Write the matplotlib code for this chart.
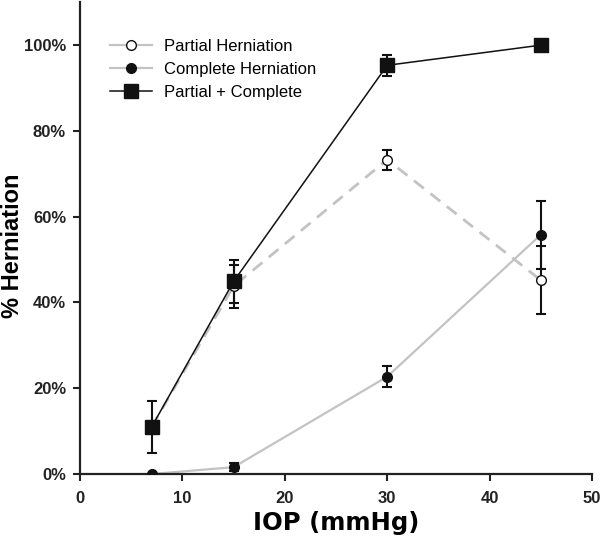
import numpy as np
import matplotlib
matplotlib.use("Agg")
import matplotlib.pyplot as plt
from matplotlib.ticker import FuncFormatter

# IOP levels (mmHg)
iop = [7, 15, 30, 45]

# fraction herniated, with error (SEM)
partial = [0.11, 0.438, 0.733, 0.452]
partial_err = [0.0, 0.05, 0.023, 0.08]

complete = [0.0, 0.016, 0.227, 0.558]
complete_err = [0.0, 0.01, 0.024, 0.079]

total = [0.11, 0.449, 0.953, 1.0]
total_err = [0.06, 0.05, 0.024, 0.0]

fig = plt.figure(figsize=(6, 5.41), dpi=100)
ax = fig.add_axes([0.1333, 0.1238, 0.8534, 0.872])

grey = "#c3c3c3"

# Partial herniation (dashed grey, open circles)
ax.plot(iop, partial, color=grey, lw=2, dashes=(4.5, 3), zorder=1)
ax.errorbar(iop, partial, yerr=partial_err, fmt="none", ecolor="#111111",
            elinewidth=1.5, capsize=3.5, capthick=1.5, zorder=3)
ax.plot(iop, partial, ls="none", marker="o", ms=7, mfc="white",
        mec="#111111", mew=1, zorder=4)

# Complete herniation (solid grey, filled circles)
ax.plot(iop, complete, color=grey, lw=1.6, zorder=1)
ax.errorbar(iop, complete, yerr=complete_err, fmt="none", ecolor="#111111",
            elinewidth=1.5, capsize=3.5, capthick=1.5, zorder=3)
ax.plot(iop, complete, ls="none", marker="o", ms=7, mfc="#111111",
        mec="#111111", zorder=4)

# Partial + complete (black line, squares)
ax.plot(iop, total, color="#111111", lw=1.1, zorder=2)
ax.errorbar(iop, total, yerr=total_err, fmt="none", ecolor="#111111",
            elinewidth=1.5, capsize=3.5, capthick=1.5, zorder=3)
ax.plot(iop, total, ls="none", marker="s", ms=9.5, mfc="#111111",
        mec="#111111", zorder=5)

# legend handles
h1, = ax.plot([], [], color=grey, lw=1.6, marker="o", ms=7, mfc="white", mec="#111111")
h2, = ax.plot([], [], color=grey, lw=1.6, marker="o", ms=7, mfc="#111111", mec="#111111")
h3, = ax.plot([], [], color="#111111", lw=1.1, marker="s", ms=9.5, mfc="#111111", mec="#111111")
leg = ax.legend([h1, h2, h3], ["Partial Herniation", "Complete Herniation", "Partial + Complete"],
                loc="upper left", bbox_to_anchor=(0.03, 0.955), frameon=False,
                handlelength=2.5, handletextpad=0.7, labelspacing=0.5,
                prop={"family": "Liberation Sans", "size": 12})

ax.set_xlim(0, 50)
ax.set_ylim(0, 1.1)
ax.set_xticks([0, 10, 20, 30, 40, 50])
ax.set_yticks([0, 0.2, 0.4, 0.6, 0.8, 1.0])
ax.yaxis.set_major_formatter(FuncFormatter(lambda v, p: f"{v * 100:.0f}%"))

for s in ["top", "right"]:
    ax.spines[s].set_visible(False)
for s in ["left", "bottom"]:
    ax.spines[s].set_linewidth(1.6)
    ax.spines[s].set_color("#222222")

ax.tick_params(direction="out", length=5, width=1.5, colors="#222222", pad=5)
ax.tick_params(axis="x", pad=7)
for lab in ax.get_xticklabels() + ax.get_yticklabels():
    lab.set_fontfamily("Liberation Sans")
    lab.set_fontweight("bold")
    lab.set_fontsize(12)

ax.set_xlabel("IOP (mmHg)", fontsize=17.5, fontweight="bold", family="DejaVu Sans", labelpad=4)
ax.set_ylabel("% Herniation", fontsize=17, fontweight="bold", family="Liberation Sans")
ax.yaxis.set_label_coords(-0.109, 0.483)

fig.savefig("out.png", dpi=100)
